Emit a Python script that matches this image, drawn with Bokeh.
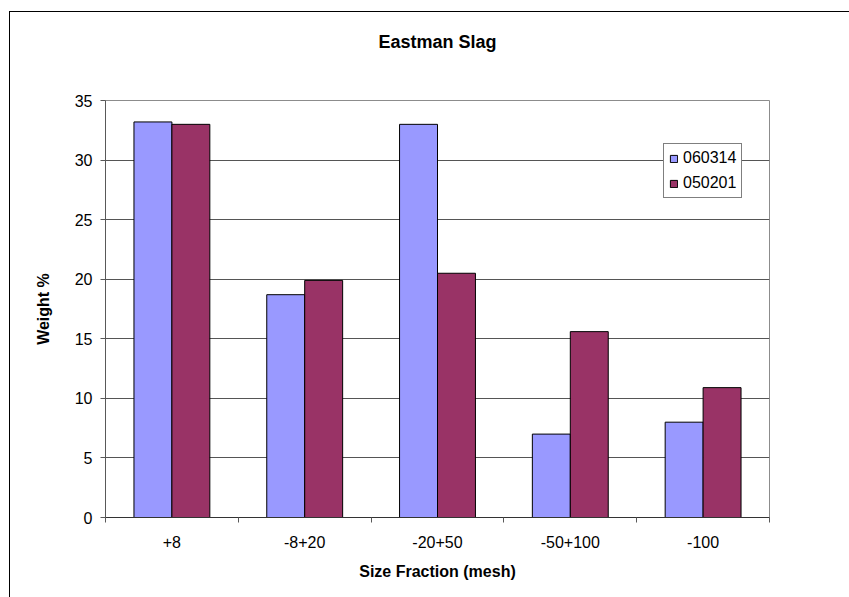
from bokeh.plotting import figure
from bokeh.models import Range1d, FixedTicker, ColumnDataSource, Title
from bokeh.transform import dodge
from bokeh.embed import file_html
from bokeh.resources import INLINE

# ---- data ----
categories = ["+8", "-8+20", "-20+50", "-50+100", "-100"]
series_names = ["060314", "050201"]
s060314 = [33.2, 18.7, 33.0, 7.0, 8.0]
s050201 = [33.0, 19.9, 20.5, 15.6, 10.9]
y_ticks = [0, 5, 10, 15, 20, 25, 30, 35]
colors = ["#9999FF", "#993366"]

FONT = "Liberation Sans"

xpos = list(range(1, len(categories) + 1))
source = ColumnDataSource(dict(x=xpos, a=s060314, b=s050201))

bar_w = 1 / 3.5

p = figure(width=849, height=597, output_backend="svg", toolbar_location=None,
           x_range=Range1d(0.5, len(categories) + 0.5), y_range=Range1d(0, 35),
           min_border_left=105, min_border_right=80, min_border_top=100, min_border_bottom=80)
p.background_fill_color = "white"
p.border_fill_color = None
p.outline_line_color = "#8c8c8c"
p.outline_line_width = 1
# outer chart-area border (continues past the window at right / bottom)
p.styles = {
    "background": "linear-gradient(#000,#000) 9px 11px / 1px 100% no-repeat, "
                  "linear-gradient(#000,#000) 9px 11px / 100% 1px no-repeat, white"
}

# title (trailing blank line keeps the text higher above the plot area)
p.title = Title(text="Eastman Slag\n", align="center", text_font=FONT, text_color="black",
                text_font_size="18px", text_font_style="bold",
                vertical_align="top", standoff=54)

# bars
p.vbar(x=dodge("x", -bar_w / 2, range=p.x_range), top="a", width=bar_w, source=source,
       fill_color=colors[0], line_color="black", line_width=1, legend_label=series_names[0])
p.vbar(x=dodge("x", bar_w / 2, range=p.x_range), top="b", width=bar_w, source=source,
       fill_color=colors[1], line_color="black", line_width=1, legend_label=series_names[1])

# grids
p.xgrid.visible = False
p.ygrid.grid_line_color = "#555555"
p.ygrid.grid_line_width = 1
p.ygrid.ticker = FixedTicker(ticks=y_ticks)

# y axis
ya = p.yaxis[0]
ya.ticker = FixedTicker(ticks=y_ticks, minor_ticks=[])
ya.axis_label = "Weight %"
ya.axis_label_text_font = FONT
ya.axis_label_text_font_size = "16px"
ya.axis_label_text_font_style = "bold"
ya.axis_label_text_color = "black"
ya.axis_label_standoff = 20
ya.major_label_text_font = FONT
ya.major_label_text_font_size = "16px"
ya.major_label_text_color = "black"
ya.major_label_standoff = 8
ya.major_tick_in = 0
ya.major_tick_out = 5
ya.minor_tick_in = 0
ya.minor_tick_out = 0
ya.axis_line_color = "#595959"
ya.major_tick_line_color = "#595959"

# x axis: labels at category centres, tick marks between categories
xa = p.xaxis[0]
xa.ticker = FixedTicker(ticks=xpos, minor_ticks=[i + 0.5 for i in range(0, len(categories) + 1)])
xa.major_label_overrides = {x: c for x, c in zip(xpos, categories)}
xa.axis_label = "Size Fraction (mesh)"
xa.axis_label_text_font = FONT
xa.axis_label_text_font_size = "16px"
xa.axis_label_text_font_style = "bold"
xa.axis_label_text_color = "black"
xa.axis_label_standoff = 12
xa.major_label_text_font = FONT
xa.major_label_text_font_size = "16px"
xa.major_label_text_color = "black"
xa.major_label_standoff = 13
xa.major_tick_in = 0
xa.major_tick_out = 0
xa.minor_tick_in = 0
xa.minor_tick_out = 5
xa.minor_tick_line_color = "#595959"
xa.axis_line_color = "#333333"

# legend
lg = p.legend[0]
lg.location = (558, 319)
lg.label_text_font = FONT
lg.label_text_font_size = "16px"
lg.label_text_color = "black"
lg.glyph_width = 9
lg.glyph_height = 9
lg.label_height = 18
lg.label_standoff = 5
lg.spacing = 7
lg.padding = 5
lg.margin = 0
lg.border_line_color = "black"
lg.border_line_width = 1
lg.background_fill_color = "white"
lg.background_fill_alpha = 1

open("out.html", "w").write(file_html(p, INLINE))
